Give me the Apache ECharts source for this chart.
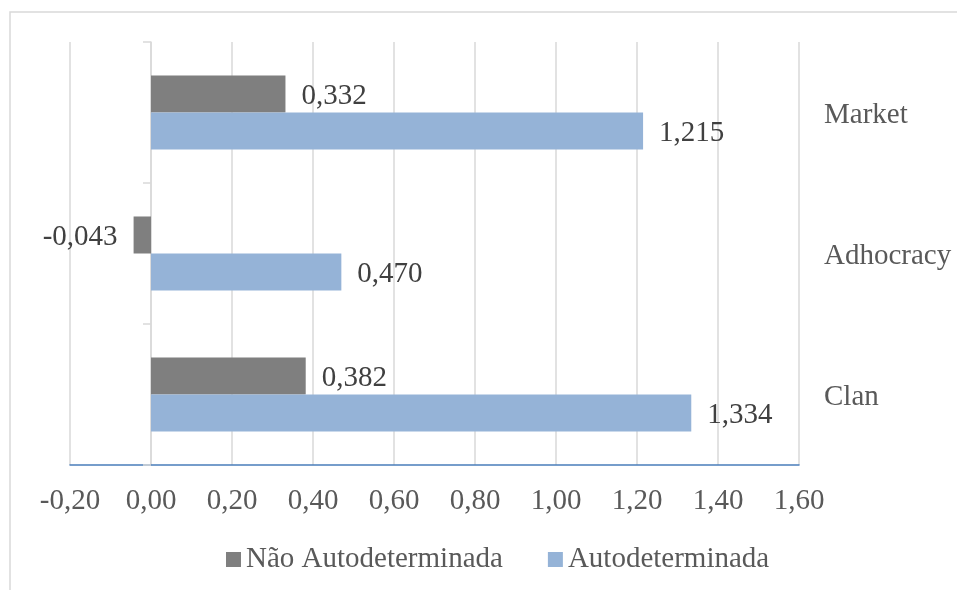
<!DOCTYPE html>
<html>
<head>
<meta charset="utf-8">
<script src="https://cdn.jsdelivr.net/npm/echarts@6/dist/echarts.min.js"></script>
<style>
html,body{margin:0;padding:0;background:#fff;}
#chart{width:957px;height:590px;}
</style>
</head>
<body>
<div id="chart"></div>
<script>
const categories = ['Clan', 'Adhocracy', 'Market'];
const naoAutodeterminada = [0.382, -0.043, 0.332];
const autodeterminada = [1.334, 0.470, 1.215];
const seriesNames = ['Não Autodeterminada', 'Autodeterminada'];
const xTicks = { min: -0.2, max: 1.6, interval: 0.2 };

const FONT = '"Liberation Serif", "Times New Roman", serif';
const FS = 29;
const comma = (v, d) => v.toFixed(d).replace('.', ',');

function toData(arr) {
  return arr.map(v => ({
    value: v,
    label: { position: v < 0 ? 'left' : 'right' }
  }));
}

const labelStyle = {
  show: true,
  distance: 16,
  color: '#404040',
  fontFamily: FONT,
  fontSize: FS,
  offset: [0, 2],
  formatter: p => comma(p.value, 3)
};

const chart = echarts.init(document.getElementById('chart'));
chart.setOption({
  animation: false,
  backgroundColor: '#fff',
  graphic: [{
    type: 'rect',
    shape: { x: 10, y: 12, width: 1000, height: 1000 },
    style: { fill: 'none', stroke: '#d9d9d9', lineWidth: 1.5 },
    silent: true,
    z: -10
  }],
  legend: {
    data: seriesNames,
    left: 221,
    top: 540,
    itemWidth: 15,
    itemHeight: 15,
    itemGap: 45,
    icon: 'rect',
    textStyle: { fontFamily: FONT, fontSize: FS, color: '#595959' }
  },
  grid: { left: 70, right: 158, top: 42, bottom: 125 },
  xAxis: {
    type: 'value',
    min: xTicks.min,
    max: xTicks.max,
    interval: xTicks.interval,
    axisLine: { show: true, lineStyle: { color: '#4a7ebb', width: 1.5 } },
    axisTick: { show: false },
    splitLine: { show: true, lineStyle: { color: '#d9d9d9', width: 1.5 } },
    axisLabel: {
      margin: 22,
      color: '#595959',
      fontFamily: FONT,
      fontSize: FS,
      formatter: v => comma(v, 2)
    }
  },
  yAxis: [{
    type: 'category',
    data: categories,
    position: 'right',
    axisLine: { show: false, onZero: false },
    axisTick: { show: false },
    axisLabel: {
      margin: 25,
      formatter: v => '{c|' + v + '}',
      rich: { c: { color: '#595959', fontFamily: FONT, fontSize: FS, padding: [6, 0, 0, 0] } }
    }
  }, {
    type: 'category',
    data: categories,
    position: 'left',
    axisLine: { show: true, onZero: true, lineStyle: { color: '#d9d9d9', width: 1.5 } },
    axisTick: { show: true, length: 8, lineStyle: { color: '#d9d9d9', width: 1.5 } },
    axisLabel: { show: false }
  }],
  series: [{
    name: seriesNames[0],
    type: 'bar',
    yAxisIndex: 0,
    data: toData(naoAutodeterminada),
    itemStyle: { color: '#7f7f7f' },
    barGap: '0%',
    barCategoryGap: '47.5%',
    label: labelStyle
  }, {
    name: seriesNames[1],
    type: 'bar',
    yAxisIndex: 0,
    data: toData(autodeterminada),
    itemStyle: { color: '#95b3d7' },
    barGap: '0%',
    barCategoryGap: '47.5%',
    label: labelStyle
  }]
});
</script>
</body>
</html>
